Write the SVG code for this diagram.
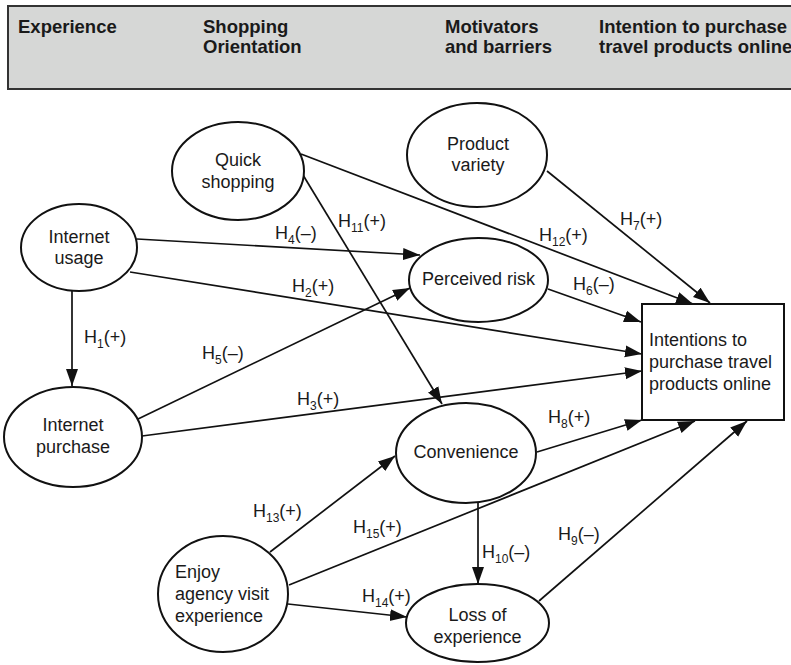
<svg xmlns="http://www.w3.org/2000/svg" width="791" height="665" viewBox="0 0 791 665">
<style>
.hd{font-family:"Liberation Sans",Arial,sans-serif;font-size:18.5px;font-weight:bold;fill:#1a1a1a}
.nd{fill:#fff;stroke:#111;stroke-width:2}
.t{font-family:"Liberation Sans",Arial,sans-serif;font-size:18px;fill:#1a1a1a}
.tc{text-anchor:middle}
.ln{stroke:#111;stroke-width:1.7;fill:none;marker-end:url(#ah)}
.lb{font-family:"Liberation Sans",Arial,sans-serif;font-size:18px;fill:#1a1a1a}
.sb{font-size:12px}
</style>
<defs>
<marker id="ah" markerUnits="userSpaceOnUse" markerWidth="18" markerHeight="13" refX="17" refY="6.5" orient="auto">
<path d="M0,0.5 L17,6.5 L0,12.5 Z" fill="#111"/>
</marker>
</defs>
<rect width="791" height="665" fill="#fff"/>
<g id="header">
<rect x="8" y="6" width="800" height="83" fill="#d6d7d6" stroke="#333" stroke-width="2"/>
<text class="hd" x="18" y="33">Experience</text>
<text class="hd" x="203" y="33">Shopping</text>
<text class="hd" x="203" y="53">Orientation</text>
<text class="hd" x="445" y="33">Motivators</text>
<text class="hd" x="445" y="53">and barriers</text>
<text class="hd" x="599" y="33">Intention to purchase</text>
<text class="hd" x="599" y="53">travel products online</text>
</g>
<g id="connectors">
<line class="ln" x1="72" y1="291" x2="72" y2="386"/>
<line class="ln" x1="137" y1="239" x2="420" y2="255"/>
<line class="ln" x1="130" y1="272" x2="642" y2="354"/>
<line class="ln" x1="138" y1="419" x2="410" y2="288"/>
<line class="ln" x1="142" y1="436" x2="642" y2="371"/>
<line class="ln" x1="303" y1="175" x2="442" y2="404"/>
<line class="ln" x1="301" y1="154" x2="693" y2="304"/>
<line class="ln" x1="547" y1="171" x2="710" y2="303"/>
<line class="ln" x1="548" y1="289" x2="641" y2="322"/>
<line class="ln" x1="537" y1="452" x2="642" y2="420"/>
<line class="ln" x1="289" y1="585" x2="695" y2="421"/>
<line class="ln" x1="270" y1="552" x2="395" y2="456"/>
<line class="ln" x1="288" y1="604" x2="407" y2="617"/>
<line class="ln" x1="478" y1="503" x2="478" y2="584"/>
<line class="ln" x1="539" y1="601" x2="747" y2="421"/>
</g>
<g id="labels">
<text class="lb" x="84" y="343">H<tspan class="sb" dy="5">1</tspan><tspan dy="-5">(+)</tspan></text>
<text class="lb" x="275" y="239">H<tspan class="sb" dy="5">4</tspan><tspan dy="-5">(–)</tspan></text>
<text class="lb" x="338" y="227">H<tspan class="sb" dy="5">11</tspan><tspan dy="-5">(+)</tspan></text>
<text class="lb" x="292" y="292">H<tspan class="sb" dy="5">2</tspan><tspan dy="-5">(+)</tspan></text>
<text class="lb" x="202" y="359">H<tspan class="sb" dy="5">5</tspan><tspan dy="-5">(–)</tspan></text>
<text class="lb" x="297" y="405">H<tspan class="sb" dy="5">3</tspan><tspan dy="-5">(+)</tspan></text>
<text class="lb" x="539" y="241">H<tspan class="sb" dy="5">12</tspan><tspan dy="-5">(+)</tspan></text>
<text class="lb" x="620" y="225">H<tspan class="sb" dy="5">7</tspan><tspan dy="-5">(+)</tspan></text>
<text class="lb" x="573" y="290">H<tspan class="sb" dy="5">6</tspan><tspan dy="-5">(–)</tspan></text>
<text class="lb" x="548" y="423">H<tspan class="sb" dy="5">8</tspan><tspan dy="-5">(+)</tspan></text>
<text class="lb" x="482" y="558">H<tspan class="sb" dy="5">10</tspan><tspan dy="-5">(–)</tspan></text>
<text class="lb" x="558" y="540">H<tspan class="sb" dy="5">9</tspan><tspan dy="-5">(–)</tspan></text>
<text class="lb" x="362" y="602">H<tspan class="sb" dy="5">14</tspan><tspan dy="-5">(+)</tspan></text>
<text class="lb" x="353" y="533">H<tspan class="sb" dy="5">15</tspan><tspan dy="-5">(+)</tspan></text>
<text class="lb" x="253" y="517">H<tspan class="sb" dy="5">13</tspan><tspan dy="-5">(+)</tspan></text>
</g>
<g id="quick-shopping">
<ellipse class="nd" cx="238" cy="171" rx="66" ry="49"/>
<text class="t tc" x="238" y="166">Quick</text>
<text class="t tc" x="238" y="188">shopping</text>
</g>
<g id="product-variety">
<ellipse class="nd" cx="477" cy="155" rx="70" ry="52"/>
<text class="t tc" x="478" y="150">Product</text>
<text class="t tc" x="478" y="171">variety</text>
</g>
<g id="internet-usage">
<ellipse class="nd" cx="79" cy="247.5" rx="58" ry="43.5"/>
<text class="t tc" x="79" y="243">Internet</text>
<text class="t tc" x="79" y="264">usage</text>
</g>
<g id="perceived-risk">
<ellipse class="nd" cx="478.5" cy="280" rx="69.5" ry="42"/>
<text class="t tc" x="478.5" y="285">Perceived risk</text>
</g>
<g id="internet-purchase">
<ellipse class="nd" cx="73" cy="437" rx="69" ry="50"/>
<text class="t tc" x="73" y="431">Internet</text>
<text class="t tc" x="73" y="453">purchase</text>
</g>
<g id="intentions">
<rect class="nd" x="642" y="304" width="142" height="116"/>
<text class="t" x="649" y="346">Intentions to</text>
<text class="t" x="649" y="368">purchase travel</text>
<text class="t" x="649" y="390">products online</text>
</g>
<g id="convenience">
<ellipse class="nd" cx="466" cy="453" rx="70" ry="50"/>
<text class="t tc" x="466" y="458">Convenience</text>
</g>
<g id="enjoy-agency">
<ellipse class="nd" cx="223" cy="594" rx="65" ry="58"/>
<text class="t" x="175" y="578">Enjoy</text>
<text class="t" x="175" y="600">agency visit</text>
<text class="t" x="175" y="622">experience</text>
</g>
<g id="loss-of-experience">
<ellipse class="nd" cx="477.5" cy="623" rx="71.5" ry="39"/>
<text class="t tc" x="477.5" y="621">Loss of</text>
<text class="t tc" x="477.5" y="643">experience</text>
</g>
</svg>
